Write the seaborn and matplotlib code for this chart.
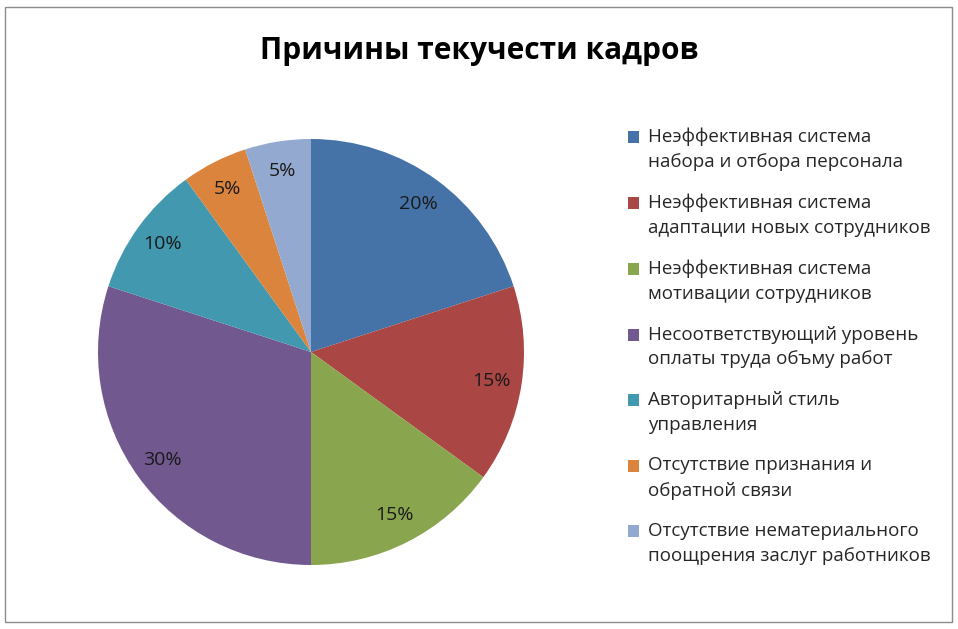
import matplotlib
matplotlib.use("Agg")
import matplotlib.pyplot as plt
import matplotlib.patches as mpatches
from matplotlib.legend_handler import HandlerPatch
import seaborn as sns

sns.set_theme(style="white")
plt.rcParams['font.family'] = ['Open Sans', 'DejaVu Sans']

# данные
reasons = [
    'Неэффективная система\nнабора и отбора персонала',
    'Неэффективная система\nадаптации новых сотрудников',
    'Неэффективная система\nмотивации сотрудников',
    'Несоответствующий уровень\nоплаты труда объму работ',
    'Авторитарный стиль\nуправления',
    'Отсутствие признания и\nобратной связи',
    'Отсутствие нематериального\nпоощрения заслуг работников',
]
shares = [20, 15, 15, 30, 10, 5, 5]
colors = ['#4572A7', '#AA4643', '#89A54E', '#71588F', '#4198AF', '#DB843D', '#93A9CF']

palette = sns.color_palette(colors)

fig = plt.figure(figsize=(9.58, 6.29), dpi=100)
fig.patch.set_facecolor('white')

# рамка
fig.add_artist(mpatches.Rectangle((5 / 958, 7 / 629), 947 / 958, 615 / 629,
                                  transform=fig.transFigure, fill=False,
                                  edgecolor='#8c8c8c', linewidth=1))

ax = fig.add_axes([98 / 958, 1 - 565 / 629, 426 / 958, 426 / 629])
wedges, _, autotexts = ax.pie(
    shares, colors=palette, startangle=90, counterclock=False,
    autopct=lambda p: f'{p:.0f}%', pctdistance=0.86,
    wedgeprops=dict(linewidth=0),
    textprops=dict(fontsize=14, color='#1a1a1a'))
ax.set_xlim(-1, 1)
ax.set_ylim(-1, 1)
ax.set_aspect('equal')

fig.text(0.5, 1 - 51 / 629, 'Причины текучести кадров', ha='center', va='center',
         fontsize=21.5, fontweight='bold', color='black')


# маркер легенды на уровне первой строки подписи
def top_square(legend, orig_handle, xdescent, ydescent, width, height, fontsize):
    return mpatches.Rectangle((-xdescent, -ydescent + 9), width, height)


handles = [mpatches.Patch(facecolor=c, edgecolor='none') for c in palette]
leg = fig.legend(handles, reasons, loc='upper left',
                 bbox_to_anchor=(620 / 958, 1 - 120 / 629),
                 frameon=False, fontsize=13.5, handlelength=0.6, handleheight=0.6,
                 handletextpad=0.5, labelspacing=1.2, borderaxespad=0,
                 handler_map={mpatches.Patch: HandlerPatch(patch_func=top_square)})
for t in leg.get_texts():
    t.set_linespacing(1.5)

fig.savefig('out.png', dpi=100)
